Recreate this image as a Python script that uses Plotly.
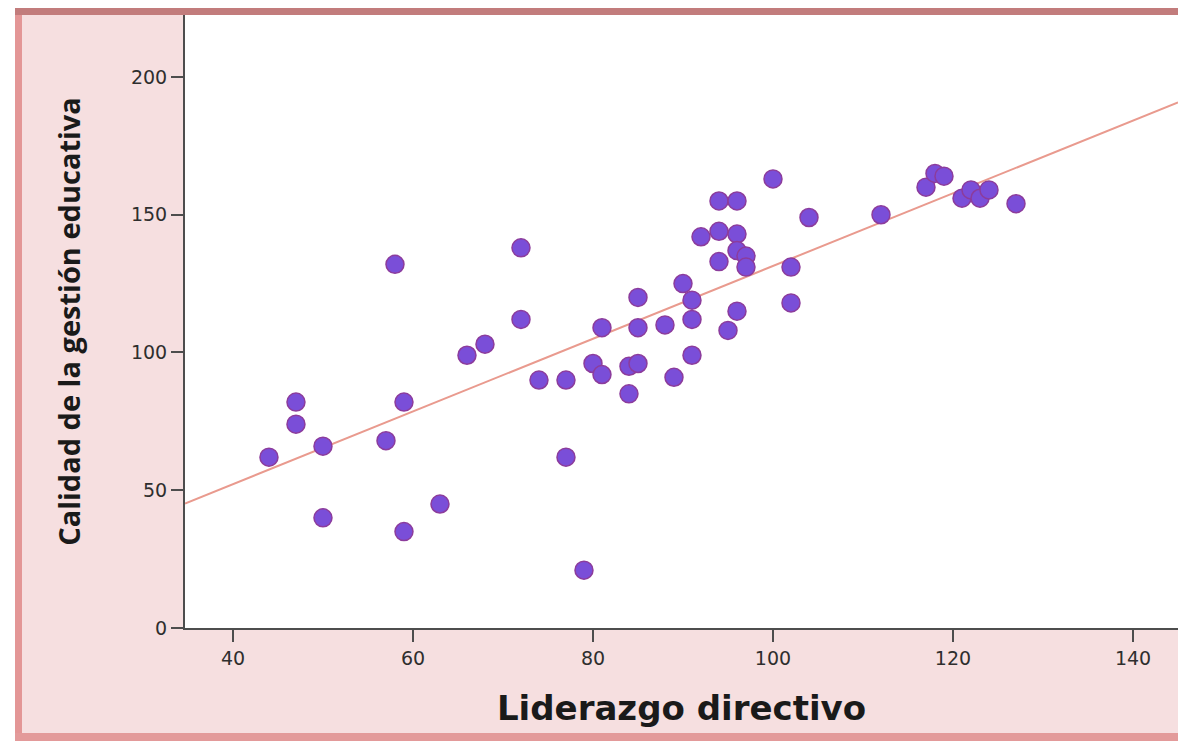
import plotly.graph_objects as go

# ---- data ----
liderazgo = [44, 47, 47, 50, 50, 58, 57, 59, 59, 63, 66, 68, 72, 72, 74, 77, 77, 79,
             80, 81, 81, 84, 84, 85, 85, 85, 88, 89, 90, 91, 91, 91, 92, 94, 94, 94,
             95, 96, 96, 96, 96, 97, 97, 100, 102, 102, 104, 112, 117, 118, 119, 121,
             122, 123, 124, 127]
calidad = [62, 82, 74, 66, 40, 132, 68, 82, 35, 45, 99, 103, 138, 112, 90, 90, 62, 21,
           96, 92, 109, 85, 95, 96, 120, 109, 110, 91, 125, 119, 112, 99, 142, 155, 144, 133,
           108, 155, 143, 137, 115, 135, 131, 163, 131, 118, 149, 150, 160, 165, 164, 156,
           159, 156, 159, 154]

fit_intercept = -0.6
fit_slope = 1.32

x_range = [34.67, 145.0]
y_range = [0, 222.5]
x_ticks = [40, 60, 80, 100, 120, 140]
y_ticks = [0, 50, 100, 150, 200]

x_title = "Liderazgo directivo"
y_title = "Calidad de la gestión educativa"

# ---- layout geometry (pixels) ----
W, H = 1178, 753
ML, MR, MT, MB = 185, 0, 15, 125
PW, PH = W - ML - MR, H - MT - MB


def px(xp):
    return (xp - ML) / PW


def py(yp):
    return (H - MB - yp) / PH


fig = go.Figure()

line_x = x_range
line_y = [fit_intercept + fit_slope * v for v in line_x]
fig.add_trace(go.Scatter(x=line_x, y=line_y, mode="lines",
                         line=dict(color="#e99a8e", width=2), hoverinfo="skip",
                         showlegend=False))

fig.add_trace(go.Scatter(x=liderazgo, y=calidad, mode="markers",
                         marker=dict(size=18, color="#7a4ed8",
                                     line=dict(color="#8c3c9c", width=1.5)),
                         showlegend=False))

shapes = []


def rect(x0, y0, x1, y1, color):
    shapes.append(dict(type="rect", xref="paper", yref="paper",
                       x0=px(x0), x1=px(x1), y0=py(y1), y1=py(y0),
                       fillcolor=color, line=dict(width=0), layer="above"))


# white outer margins
rect(0, 0, 15, H, "#ffffff")
rect(0, 0, W + 5, 8, "#ffffff")
rect(0, 741, W + 5, H, "#ffffff")
# frame bands
rect(15, 8, 22, 741, "#e39696")
rect(15, 8, W + 5, 15, "#c27c7c")
rect(15, 733, W + 5, 741, "#e39a9a")

fig.update_layout(
    width=W, height=H,
    margin=dict(l=ML, r=MR, t=MT, b=MB, pad=0),
    paper_bgcolor="#f6dfe0",
    plot_bgcolor="#ffffff",
    shapes=shapes,
    xaxis=dict(range=x_range, tickvals=x_ticks, showgrid=False, zeroline=False,
               showline=True, linecolor="#4d4d4d", linewidth=2,
               ticks="outside", ticklen=12, tickwidth=2, tickcolor="#4d4d4d",
               tickfont=dict(family="DejaVu Sans", size=19, color="#2e2e2e"),
               title=dict(text=x_title, standoff=28,
                          font=dict(family="DejaVu Sans", size=34, color="#1a1a1a",
                                    weight="bold"))),
    yaxis=dict(range=y_range, tickvals=y_ticks, showgrid=False, zeroline=False,
               showline=True, linecolor="#4d4d4d", linewidth=2,
               ticks="outside", ticklen=12, tickwidth=2, tickcolor="#4d4d4d",
               tickfont=dict(family="DejaVu Sans", size=19, color="#2e2e2e"),
               title=dict(text=y_title, standoff=42,
                          font=dict(family="Open Sans", size=29, color="#1a1a1a",
                                    weight="bold"))),
)

fig.write_html("out.html", config={"displayModeBar": False},
               post_script="document.body.style.margin='0';document.body.style.overflow='hidden';")
